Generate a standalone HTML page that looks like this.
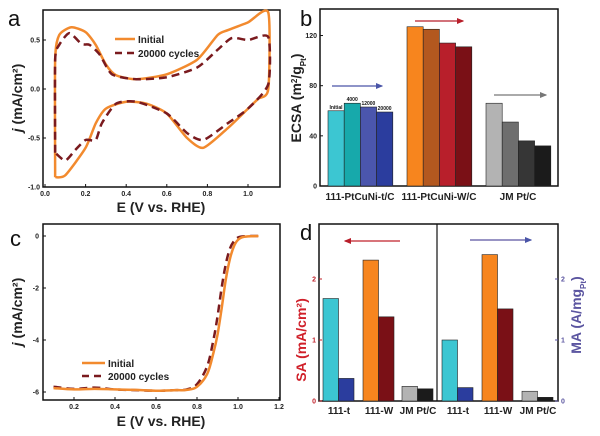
<!DOCTYPE html>
<html><head><meta charset="utf-8"><style>
html,body{margin:0;padding:0;background:#fff;width:600px;height:436px;overflow:hidden}
svg{display:block;font-family:"Liberation Sans",Arial,sans-serif}
.tk{font-size:7px;font-weight:bold;fill:#222}
.ttl{font-size:14px;font-weight:bold;fill:#222}
.let{font-size:22px;fill:#111}
.lg{font-size:10px;font-weight:bold;fill:#222}
</style></head><body>
<svg id="fig" width="600" height="436" viewBox="0 0 600 436">
<defs>
<marker id="ab" markerWidth="6" markerHeight="6" refX="5" refY="3" orient="auto"><path d="M0,0.5 L6,3 L0,5.5 z" fill="#4a55a8"/></marker>
<marker id="ar" markerWidth="6" markerHeight="6" refX="5" refY="3" orient="auto"><path d="M0,0.5 L6,3 L0,5.5 z" fill="#b81e2a"/></marker>
<marker id="ag" markerWidth="6" markerHeight="6" refX="5" refY="3" orient="auto"><path d="M0,0.5 L6,3 L0,5.5 z" fill="#777"/></marker>
</defs>
<g id="pa"></g>
<g id="pb"></g>
<g id="pc"></g>
<g id="pd"></g>
</svg>
<script>
// Panel a data
const cvInitV=[0.05,0.05,0.07,0.13,0.2,0.25,0.3,0.35,0.45,0.6,0.75,0.85,0.9,1.0,1.1,1.1,1.05,1.0,0.9,0.78,0.7,0.6,0.5,0.4,0.3,0.25,0.2,0.1,0.05];
const cvInitJ=[-0.9,0.3,0.55,0.63,0.58,0.45,0.25,0.14,0.1,0.15,0.3,0.55,0.6,0.68,0.78,0.0,-0.1,-0.2,-0.4,-0.6,-0.5,-0.25,-0.15,-0.13,-0.2,-0.35,-0.6,-0.88,-0.9];
const cvAgedV=[0.05,0.05,0.07,0.12,0.18,0.22,0.27,0.33,0.45,0.6,0.75,0.85,0.92,1.0,1.1,1.1,1.0,0.9,0.78,0.7,0.6,0.45,0.35,0.28,0.25,0.2,0.15,0.1,0.05];
const cvAgedJ=[-0.65,0.3,0.45,0.57,0.46,0.45,0.35,0.15,0.1,0.12,0.22,0.4,0.52,0.5,0.53,0.05,-0.2,-0.35,-0.52,-0.45,-0.25,-0.13,-0.15,-0.35,-0.52,-0.52,-0.62,-0.73,-0.65];
const aXTicks=[0.0,0.2,0.4,0.6,0.8,1.0];
const aYTicks=[-1.0,-0.5,0.0,0.5];
// Panel b data
const bGroups=["111-PtCuNi-t/C","111-PtCuNi-W/C","JM Pt/C"];
const bCycles=["Initial","4000","12000","20000"];
const bT=[60,66,63,59];
const bW=[127,125,114,111];
const bJM=[66,51,36,32];
const bYTicks=[0,40,80,120];
// Panel c data
const lsvV=[0.1,0.2,0.3,0.4,0.5,0.6,0.7,0.75,0.8,0.85,0.88,0.9,0.92,0.94,0.96,0.98,1.0,1.03,1.1];
const lsvInit=[-5.85,-5.9,-5.88,-5.9,-5.92,-5.95,-5.93,-5.92,-5.8,-5.3,-4.5,-3.8,-2.8,-1.7,-0.9,-0.4,-0.15,-0.03,0];
const lsvAged=[-5.8,-5.88,-5.83,-5.9,-5.93,-5.95,-5.93,-5.9,-5.7,-5.0,-4.0,-3.1,-2.0,-1.1,-0.5,-0.2,-0.06,-0.01,0];
const cXTicks=[0.2,0.4,0.6,0.8,1.0,1.2];
const cYTicks=[0,-2,-4,-6];
// Panel d data
const dCats=["111-t","111-W","JM Pt/C"];
const dSAinit=[1.68,2.31,0.24];
const dSAaged=[0.37,1.38,0.2];
const dMAinit=[1.0,2.4,0.16];
const dMAaged=[0.22,1.51,0.06];
const dYTicks=[0,1,2];

const NS="http://www.w3.org/2000/svg";
function mk(p,t,a,txt){const e=document.createElementNS(NS,t);for(const k in a)e.setAttribute(k,a[k]);if(txt!==undefined)e.textContent=txt;p.appendChild(e);return e;}
function smooth(xs,ys,fx,fy,k){k=k||6;const P=xs.map((v,i)=>[fx(v),fy(ys[i])]);let d='M'+P[0][0]+','+P[0][1];for(let i=0;i<P.length-1;i++){const p0=P[i-1]||P[i],p1=P[i],p2=P[i+1],p3=P[i+2]||p2;const c1=[p1[0]+(p2[0]-p0[0])/k,p1[1]+(p2[1]-p0[1])/k],c2=[p2[0]-(p3[0]-p1[0])/k,p2[1]-(p3[1]-p1[1])/k];d+=' C'+c1.join(',')+' '+c2.join(',')+' '+p2.join(',');}return d;}
function jTitle(g,tr,name){const t=mk(g,'text',{transform:tr,class:'ttl','text-anchor':'middle',});mk(t,'tspan',{'font-style':'italic'},'j');mk(t,'tspan',{},' (mA/cm²)');return t;}

// ---------- Panel a ----------
(function(){
const g=document.getElementById('pa');
const X=v=>45+203*v, Y=j=>89-98*j;
mk(g,'text',{x:8,y:26,class:'let',},'a');
mk(g,'rect',{x:43,y:10,width:237,height:177,fill:'none',stroke:'#111','stroke-width':1.5,});
aXTicks.forEach(t=>{mk(g,'line',{x1:X(t),x2:X(t),y1:187,y2:184,stroke:'#111'});
 const e=mk(g,'text',{x:X(t),y:196,class:'tk','text-anchor':'middle'},t.toFixed(1));
 
 });
aYTicks.forEach(t=>{mk(g,'line',{x1:43,x2:46,y1:Y(t),y2:Y(t),stroke:'#111'});
 const e=mk(g,'text',{x:40,y:Y(t)+2.5,class:'tk','text-anchor':'end'},t.toFixed(1));
 
 });
let e=mk(g,'path',{d:smooth(cvInitV,cvInitJ,X,Y,9),fill:'none',stroke:'#f28a2e','stroke-width':2.5});


e=mk(g,'path',{d:smooth(cvAgedV,cvAgedJ,X,Y,9),fill:'none',stroke:'#7a1a1e','stroke-width':2.5,'stroke-dasharray':'8,5'});


mk(g,'line',{x1:115,x2:135,y1:39,y2:39,stroke:'#f28a2e','stroke-width':2.5});
mk(g,'text',{x:138,y:43,class:'lg',},'Initial');
mk(g,'line',{x1:115,x2:135,y1:53,y2:53,stroke:'#7a1a1e','stroke-width':2.5,'stroke-dasharray':'7,5'});
mk(g,'text',{x:138,y:57,class:'lg',},'20000 cycles');
mk(g,'text',{x:161,y:212,class:'ttl','text-anchor':'middle',},'E (V vs. RHE)');
jTitle(g,'translate(22,98) rotate(-90)','y-axis-title');
})();

// ---------- Panel b ----------
(function(){
const g=document.getElementById('pb');
const Y=v=>186-1.254*v;
mk(g,'text',{x:300,y:26,class:'let',},'b');
mk(g,'rect',{x:320,y:9,width:238,height:177,fill:'none',stroke:'#111','stroke-width':1.5,});
bYTicks.forEach(t=>{mk(g,'line',{x1:320,x2:323,y1:Y(t),y2:Y(t),stroke:'#111'});
 const e=mk(g,'text',{x:317,y:Y(t)+2.5,class:'tk','text-anchor':'end'},t);
 
 });
const series=[bT,bW,bJM];
const starts=[328,407,486];
const cols=[["#3cc6d2","#17a9ab","#4b56ad","#2b3d9e"],["#f7851e","#b3581f","#b81f2b","#7a1016"],["#b3b3b3","#6e6e6e","#363636","#1b1b1b"]];
series.forEach((s,gi)=>{s.forEach((v,i)=>{const x=starts[gi]+i*16.2;
 const r=mk(g,'rect',{x:x,y:Y(v),width:16.2,height:186-Y(v),fill:cols[gi][i],stroke:'#222','stroke-width':0.6});
 
 
 if(gi===0){const t=mk(g,'text',{x:x+8,y:Y(v)-2,'font-size':5,'font-weight':'bold','text-anchor':'middle',fill:'#111'},bCycles[i]);
 
 }
});
 const t=mk(g,'text',{x:starts[gi]+32,y:200,'font-size':10,'font-weight':'bold','text-anchor':'middle',fill:'#222'},bGroups[gi]);
 
 });
mk(g,'line',{x1:332,x2:382,y1:86,y2:86,stroke:'#4a55a8','stroke-width':1.2,'marker-end':'url(#ab)',});
mk(g,'line',{x1:415,x2:463,y1:21,y2:21,stroke:'#b81e2a','stroke-width':1.2,'marker-end':'url(#ar)',});
mk(g,'line',{x1:494,x2:546,y1:95,y2:95,stroke:'#777','stroke-width':1.2,'marker-end':'url(#ag)',});
const yt=mk(g,'text',{transform:'translate(301,98) rotate(-90)',class:'ttl','font-size':12,'text-anchor':'middle',},'ECSA (m');
mk(yt,'tspan',{'baseline-shift':'super','font-size':8},'2');mk(yt,'tspan',{},'/g');mk(yt,'tspan',{'baseline-shift':'sub','font-size':8},'Pt');mk(yt,'tspan',{},')');
})();

// ---------- Panel c ----------
(function(){
const g=document.getElementById('pc');
const X=v=>33+205*v, Y=j=>236-26*j;
mk(g,'text',{x:10,y:246,class:'let',},'c');
mk(g,'rect',{x:43,y:224,width:237,height:176,fill:'none',stroke:'#111','stroke-width':1.5,});
cXTicks.forEach(t=>{mk(g,'line',{x1:X(t),x2:X(t),y1:400,y2:397,stroke:'#111'});
 const e=mk(g,'text',{x:X(t),y:409,class:'tk','text-anchor':'middle'},t.toFixed(1));
 
 });
cYTicks.forEach(t=>{mk(g,'line',{x1:43,x2:46,y1:Y(t),y2:Y(t),stroke:'#111'});
 const e=mk(g,'text',{x:39,y:Y(t)+2.5,class:'tk','text-anchor':'end'},t);
 
 });
let e=mk(g,'path',{d:smooth(lsvV,lsvAged,X,Y),fill:'none',stroke:'#7a1a1e','stroke-width':2.5,'stroke-dasharray':'8,5'});


e=mk(g,'path',{d:smooth(lsvV,lsvInit,X,Y),fill:'none',stroke:'#f28a2e','stroke-width':2.5});


mk(g,'line',{x1:82,x2:105,y1:363,y2:363,stroke:'#f28a2e','stroke-width':2.5});
mk(g,'text',{x:108,y:367,class:'lg',},'Initial');
mk(g,'line',{x1:82,x2:105,y1:376,y2:376,stroke:'#7a1a1e','stroke-width':2.5,'stroke-dasharray':'7,5'});
mk(g,'text',{x:108,y:380,class:'lg',},'20000 cycles');
mk(g,'text',{x:161,y:426,class:'ttl','text-anchor':'middle',},'E (V vs. RHE)');
jTitle(g,'translate(22,312) rotate(-90)','y-axis-title');
})();

// ---------- Panel d ----------
(function(){
const g=document.getElementById('pd');
const Y=v=>401-61*v;
mk(g,'text',{x:300,y:240,class:'let',},'d');
mk(g,'rect',{x:319,y:224,width:239,height:177,fill:'none',stroke:'#111','stroke-width':1.5,});
mk(g,'line',{x1:437,x2:437,y1:224,y2:401,stroke:'#111','stroke-width':1.2,});
dYTicks.forEach(t=>{mk(g,'line',{x1:319,x2:322,y1:Y(t),y2:Y(t),stroke:'#c0202a'});
 let e=mk(g,'text',{x:316,y:Y(t)+2.5,class:'tk','text-anchor':'end',style:'fill:#c0202a'},t);
 
 
 mk(g,'line',{x1:555,x2:558,y1:Y(t),y2:Y(t),stroke:'#5b55a0'});
 e=mk(g,'text',{x:561,y:Y(t)+2.5,class:'tk',style:'fill:#5b55a0'},t);
 
 });
const ci=["#3cc6d2","#f7851e","#b3b3b3"], ca=["#2b3d9e","#7a1016","#1b1b1b"];
const lx=[323,363,402], rx=[442,482,522];
[[dSAinit,dSAaged,lx,'sa'],[dMAinit,dMAaged,rx,'ma']].forEach(([a,b,xs,nm])=>{
 dCats.forEach((c,i)=>{
  let r=mk(g,'rect',{x:xs[i],y:Y(a[i]),width:15.5,height:401-Y(a[i]),fill:ci[i],stroke:'#222','stroke-width':0.6});
  
  
  r=mk(g,'rect',{x:xs[i]+15.5,y:Y(b[i]),width:15.5,height:401-Y(b[i]),fill:ca[i],stroke:'#222','stroke-width':0.6});
  
  
  const t=mk(g,'text',{x:xs[i]+16,y:414,'font-size':10,'font-weight':'bold','text-anchor':'middle',fill:'#222'},c);
  
  
 });});
mk(g,'line',{x1:400,x2:345,y1:241,y2:241,stroke:'#c0202a','stroke-width':1.2,'marker-end':'url(#ar)',});
mk(g,'line',{x1:470,x2:531,y1:240,y2:240,stroke:'#5b55a0','stroke-width':1.2,'marker-end':'url(#ab)',});
mk(g,'text',{transform:'translate(306,340) rotate(-90)',class:'ttl','font-size':13,'text-anchor':'middle',style:'fill:#d0202a',},'SA (mA/cm²)');
const mt=mk(g,'text',{transform:'translate(581,315) rotate(-90)',class:'ttl','font-size':13,'text-anchor':'middle',style:'fill:#5b55a0',},'MA (A/mg');
mk(mt,'tspan',{'baseline-shift':'sub','font-size':8},'Pt');mk(mt,'tspan',{},')');
})();
</script>
</body></html>
